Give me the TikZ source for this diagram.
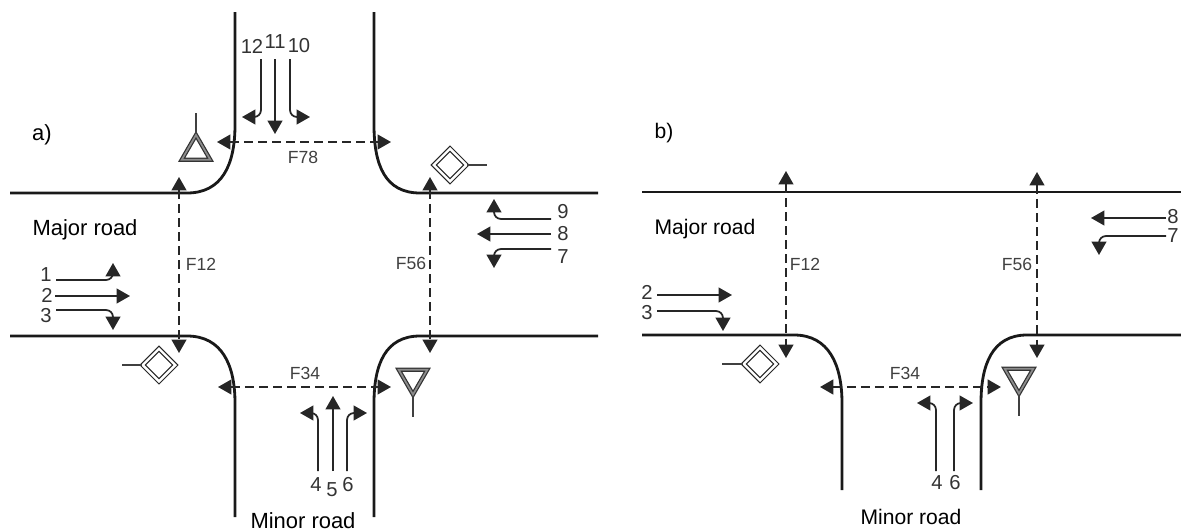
\documentclass[tikz,border=0pt]{standalone}
\usepackage{fontspec}
\setmainfont{Liberation Sans}
\usetikzlibrary{arrows.meta,shapes.geometric}
\tikzset{
  roadline/.style={line width=1.6pt, black!90},
  flowline/.style={line width=1pt, black!85, rounded corners=4pt, -{Triangle[length=7.6pt,width=8.4pt]}},
  gapline/.style={line width=1pt, black!85, dash pattern=on 5pt off 3pt, {Triangle[length=7.6pt,width=8.4pt]}-{Triangle[length=7.6pt,width=8.4pt]}},
  postline/.style={line width=0.8pt, black!75},
  numlab/.style={inner sep=0pt, text=black!80, font=\fontsize{11.5}{14}\selectfont},
  gaplab/.style={inner sep=0pt, text=black!75, font=\fontsize{10}{12}\selectfont},
  textlab/.style={inner sep=0pt, font=\fontsize{12.5}{15}\selectfont},
  textlabb/.style={inner sep=0pt, font=\fontsize{12}{14}\selectfont},
  yieldsign/.style={regular polygon, regular polygon sides=3, draw=black!80, double=black!45, double distance=1pt, line width=0.7pt, inner sep=0pt, minimum size=0.66cm},
  prioritysign/.style={diamond, aspect=1, draw=black!85, double, double distance=1.4pt, line width=0.65pt, inner sep=0pt, minimum size=0.66cm}
}
\begin{document}
\begin{tikzpicture}[x=0.02cm, y=-0.02cm]
  \useasboundingbox (0,0) rectangle (1181,531);

  \draw[roadline] (235,12) -- (235,125) .. controls (235,165) and (222,193) .. (187,193) -- (10,193);
  \draw[roadline] (374,12) -- (374,125) .. controls (374,165) and (385,193) .. (420,193) -- (598,193);
  \draw[roadline] (10,336) -- (187,336) .. controls (222,336) and (235,365) .. (235,403) -- (235,517);
  \draw[roadline] (598,336) -- (420,336) .. controls (385,336) and (374,365) .. (374,403) -- (374,517);

  \node[textlab, name=atitle] at (42,135) {a)};
  \node[textlab, name=amajor] at (85,230) {Major road};
  \node[textlab, name=aminor] at (303,521) {Minor road};
  \node[gaplab, name=af12] at (201,264) {F12};
  \node[gaplab, name=af56] at (411,263) {F56};
  \node[gaplab, name=af78] at (303,157) {F78};
  \node[gaplab, name=af34] at (305,373) {F34};

  \node[numlab, name=an1] at (46,275) {1};
  \node[numlab, name=an2] at (47,295) {2};
  \node[numlab, name=an3] at (46,316) {3};
  \node[numlab, name=an4] at (316,485) {4};
  \node[numlab, name=an5] at (332,490) {5};
  \node[numlab, name=an6] at (348,485) {6};
  \node[numlab, name=an7] at (563,257) {7};
  \node[numlab, name=an8] at (563,234) {8};
  \node[numlab, name=an9] at (563,212) {9};
  \node[numlab, name=an10] at (299,46) {10};
  \node[numlab, name=an11] at (275,42) {11};
  \node[numlab, name=an12] at (252,46) {12};

  \coordinate (a1s) at (56,280);   \coordinate (a1e) at (113,263);
  \coordinate (a2s) at (55,296);   \coordinate (a2e) at (130,296);
  \coordinate (a3s) at (56,310);   \coordinate (a3e) at (113,330);
  \coordinate (a4s) at (318,471);  \coordinate (a4e) at (300,413);
  \coordinate (a5s) at (333,471);  \coordinate (a5e) at (333,396);
  \coordinate (a6s) at (347,471);  \coordinate (a6e) at (367,413);
  \coordinate (a7s) at (551,249);  \coordinate (a7e) at (494,268);
  \coordinate (a8s) at (551,234);  \coordinate (a8e) at (477,234);
  \coordinate (a9s) at (551,219);  \coordinate (a9e) at (494,199);
  \coordinate (a10s) at (290,59);  \coordinate (a10e) at (310,117);
  \coordinate (a11s) at (275,59);  \coordinate (a11e) at (275,134);
  \coordinate (a12s) at (261,59);  \coordinate (a12e) at (242,117);

  \draw[flowline] (a1s) -| (a1e);
  \draw[flowline] (a3s) -| (a3e);
  \draw[flowline] (a7s) -| (a7e);
  \draw[flowline] (a9s) -| (a9e);
  \draw[flowline] (a4s) |- (a4e);
  \draw[flowline] (a6s) |- (a6e);
  \draw[flowline] (a10s) |- (a10e);
  \draw[flowline] (a12s) |- (a12e);
  \path[flowline]
     (a2s) edge (a2e)
     (a5s) edge (a5e)
     (a8s) edge (a8e)
     (a11s) edge (a11e);

  \coordinate (ag1t) at (179,177);  \coordinate (ag1b) at (179,353);
  \coordinate (ag2t) at (430,177);  \coordinate (ag2b) at (430,353);
  \coordinate (ag3l) at (217,142);  \coordinate (ag3r) at (391,142);
  \coordinate (ag4l) at (218,387);  \coordinate (ag4r) at (391,387);
  \path[gapline]
     (ag1t) edge (ag1b)
     (ag2t) edge (ag2b)
     (ag3l) edge (ag3r)
     (ag4l) edge (ag4r);

  \node[yieldsign, name=ayieldt] at (196,151.5) {};
  \node[yieldsign, shape border rotate=180, name=ayieldb] at (413,378) {};
  \node[prioritysign, name=aprior] at (450,165) {};
  \node[prioritysign, name=apriol] at (159,365) {};
  \coordinate (apostt) at (196,113);
  \coordinate (apostb) at (413,417);
  \coordinate (apostr) at (487,165);
  \coordinate (apostl) at (122,365);
  \path[postline]
     (ayieldt.corner 1) edge (apostt)
     (ayieldb.corner 1) edge (apostb)
     (aprior.east) edge (apostr)
     (apriol.west) edge (apostl);

  \draw[roadline] (642,192) -- (1181,192);
  \draw[roadline] (642,335) -- (794,335) .. controls (829,335) and (842,365) .. (842,403) -- (842,490);
  \draw[roadline] (1181,335) -- (1027,335) .. controls (992,335) and (981,365) .. (981,403) -- (981,490);

  \node[textlabb, name=btitle] at (664,133) {b)};
  \node[textlabb, name=bmajor] at (705,229) {Major road};
  \node[textlabb, name=bminor] at (911,517) {Minor road};
  \node[gaplab, name=bf12] at (805,264) {F12};
  \node[gaplab, name=bf56] at (1017,264) {F56};
  \node[gaplab, name=bf34] at (905,373) {F34};

  \node[numlab, name=bn2] at (647,292) {2};
  \node[numlab, name=bn3] at (647,313) {3};
  \node[numlab, name=bn4] at (937,483) {4};
  \node[numlab, name=bn6] at (955,483) {6};
  \node[numlab, name=bn7] at (1173,236) {7};
  \node[numlab, name=bn8] at (1173,217) {8};

  \coordinate (b2s) at (657,295);   \coordinate (b2e) at (732,295);
  \coordinate (b3s) at (657,311);   \coordinate (b3e) at (723,331);
  \coordinate (b4s) at (936,471);   \coordinate (b4e) at (917,403);
  \coordinate (b6s) at (954,471);   \coordinate (b6e) at (973,403);
  \coordinate (b7s) at (1166,236);  \coordinate (b7e) at (1099,255);
  \coordinate (b8s) at (1166,218);  \coordinate (b8e) at (1091,218);

  \draw[flowline] (b3s) -| (b3e);
  \draw[flowline] (b7s) -| (b7e);
  \draw[flowline] (b4s) |- (b4e);
  \draw[flowline] (b6s) |- (b6e);
  \path[flowline]
     (b2s) edge (b2e)
     (b8s) edge (b8e);

  \coordinate (bg1t) at (786,171);   \coordinate (bg1b) at (786,358);
  \coordinate (bg2t) at (1037,172);  \coordinate (bg2b) at (1037,358);
  \coordinate (bg3l) at (820,387);   \coordinate (bg3r) at (1001,387);
  \path[gapline]
     (bg1t) edge (bg1b)
     (bg2t) edge (bg2b);
  \path[gapline, line width=1.3pt]
     (bg3l) edge (bg3r);

  \node[yieldsign, shape border rotate=180, name=byield] at (1019,377) {};
  \node[prioritysign, name=bprio] at (760,364) {};
  \coordinate (bposty) at (1019,416);
  \coordinate (bpostp) at (722,364);
  \path[postline]
     (byield.corner 1) edge (bposty)
     (bprio.west) edge (bpostp);
\end{tikzpicture}
\end{document}
